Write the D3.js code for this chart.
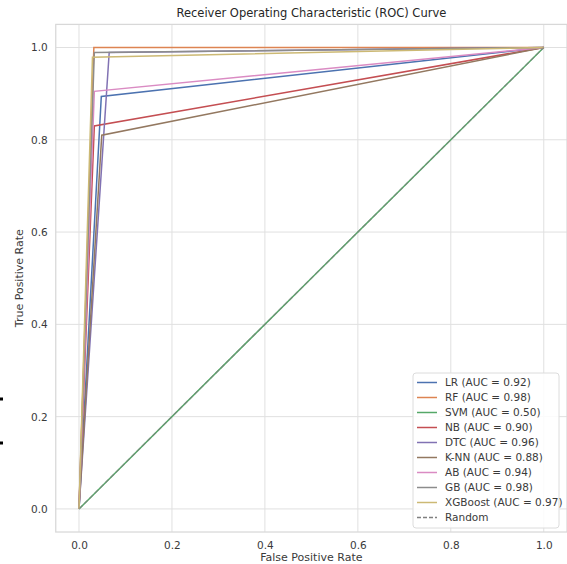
<!DOCTYPE html>
<html>
<head>
<meta charset="utf-8">
<script src="https://cdn.jsdelivr.net/npm/d3@7"></script>
<style>
  body { margin: 0; background: #fff; }
  svg { font-family: "DejaVu Sans", sans-serif; }
</style>
</head>
<body>
<svg id="chart" width="567" height="564"></svg>
<script>
// ROC data: one operating point per model
var models = ["LR", "RF", "SVM", "NB", "DTC", "K-NN", "AB", "GB", "XGBoost"];
var fprs   = [0.048, 0.032, 0.5, 0.033, 0.065, 0.049, 0.033, 0.033, 0.029];
var tprs   = [0.894, 1.0, 0.5, 0.83, 0.989, 0.81, 0.905, 0.989, 0.979];
var aucs   = [0.92, 0.98, 0.50, 0.90, 0.96, 0.88, 0.94, 0.98, 0.97];
var ticks  = [0.0, 0.2, 0.4, 0.6, 0.8, 1.0];

var colors = ["#4C72B0", "#DD8452", "#55A868", "#C44E52", "#8172B3",
              "#937860", "#DA8BC3", "#8C8C8C", "#CCB974"];

var svg = d3.select("#chart"),
    margin = {left: 55.75, right: 0, top: 24.4, bottom: 32},
    width = +svg.attr("width") - margin.left - margin.right,
    height = +svg.attr("height") - margin.top - margin.bottom;

var x = d3.scaleLinear().domain([-0.05, 1.05]).range([margin.left, margin.left + width]);
var y = d3.scaleLinear().domain([-0.05, 1.05]).range([margin.top + height, margin.top]);

// grid
var grid = svg.append("g");
grid.selectAll(".gx").data(ticks).enter().append("line")
    .attr("x1", d => x(d)).attr("x2", d => x(d))
    .attr("y1", margin.top).attr("y2", margin.top + height)
    .style("stroke", "#e0e0e0").style("stroke-width", 1);
grid.selectAll(".gy").data(ticks).enter().append("line")
    .attr("y1", d => y(d)).attr("y2", d => y(d))
    .attr("x1", margin.left).attr("x2", margin.left + width)
    .style("stroke", "#e0e0e0").style("stroke-width", 1);

// frame
svg.append("rect")
    .attr("x", margin.left).attr("y", margin.top)
    .attr("width", width).attr("height", height)
    .style("fill", "none").style("stroke", "#d8d8d8").style("stroke-width", 1.25);

// axes (labels only, no tick marks)
var xAxis = svg.append("g")
    .attr("transform", "translate(0," + (margin.top + height) + ")")
    .call(d3.axisBottom(x).tickValues(ticks).tickFormat(d3.format(".1f")).tickSize(0).tickPadding(10));
var yAxis = svg.append("g")
    .attr("transform", "translate(" + margin.left + ",0)")
    .call(d3.axisLeft(y).tickValues(ticks).tickFormat(d3.format(".1f")).tickSize(0).tickPadding(8));
[xAxis, yAxis].forEach(function (a) {
    a.select(".domain").remove();
    a.selectAll("text").style("font-size", "10.5px").style("fill", "#3a3a3a")
        .style("font-family", "DejaVu Sans, sans-serif");
});

// curves
var line = d3.line().x(d => x(d[0])).y(d => y(d[1]));
models.forEach(function (m, i) {
    svg.append("path")
        .datum([[0, 0], [fprs[i], tprs[i]], [1, 1]])
        .attr("d", line)
        .style("fill", "none")
        .style("stroke", colors[i])
        .style("stroke-width", 1.5);
});

// random baseline
svg.append("path")
    .datum([[0, 0], [1, 1]])
    .attr("d", line)
    .style("fill", "none")
    .style("stroke", "#808080")
    .style("stroke-width", 1.5)
    .style("stroke-dasharray", "5,2.4")
    .style("opacity", 0.55);

// title & axis labels
svg.append("text")
    .attr("x", margin.left + width / 2).attr("y", 17)
    .attr("text-anchor", "middle")
    .style("font-size", "11.5px").style("fill", "#262626")
    .text("Receiver Operating Characteristic (ROC) Curve");
svg.append("text")
    .attr("x", margin.left + width / 2).attr("y", 561)
    .attr("text-anchor", "middle")
    .style("font-size", "11px").style("fill", "#3a3a3a")
    .text("False Positive Rate");
svg.append("text")
    .attr("transform", "translate(23," + (margin.top + height / 2) + ") rotate(-90)")
    .attr("text-anchor", "middle")
    .style("font-size", "11px").style("fill", "#3a3a3a")
    .text("True Positive Rate");

// legend
var legend = svg.append("g").attr("transform", "translate(413,373)");
legend.append("rect")
    .attr("width", 146).attr("height", 155).attr("rx", 3)
    .style("fill", "#fff").style("fill-opacity", 0.85)
    .style("stroke", "#dcdcdc").style("stroke-width", 1);
var entries = models.map(function (m, i) {
    return {label: m + " (AUC = " + aucs[i].toFixed(2) + ")", color: colors[i], dash: null};
});
entries.push({label: "Random", color: "#808080", dash: "4,2"});
entries.forEach(function (e, i) {
    var gy = 9.5 + i * 15;
    legend.append("line")
        .attr("x1", 4).attr("x2", 24).attr("y1", gy).attr("y2", gy)
        .style("stroke", e.color).style("stroke-width", 1.5)
        .style("stroke-dasharray", e.dash);
    legend.append("text")
        .attr("x", 32).attr("y", gy + 3.8)
        .style("font-size", "10.5px").style("fill", "#3a3a3a")
        .text(e.label);
});

// stray marks at the left edge of the source image
[397.5, 441.5].forEach(function (v) {
    svg.append("rect").attr("x", 0).attr("y", v).attr("width", 3).attr("height", 3)
        .style("fill", "#000");
});
</script>
</body>
</html>
